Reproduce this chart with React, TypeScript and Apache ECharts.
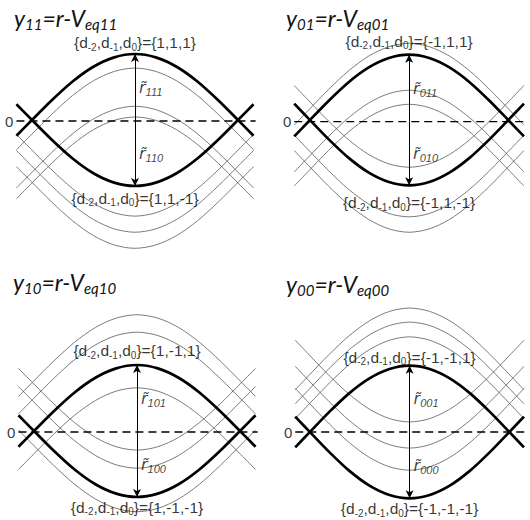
import React, { useEffect, useRef } from 'react';
import * as echarts from 'echarts';

// Time around the sampling instant (UI) and the normalised pulse shape of one trace
const T_UI = [-0.57, -0.5, -0.4, -0.3, -0.2, -0.1, 0, 0.1, 0.2, 0.3, 0.4, 0.5, 0.57];
const PULSE = [-0.22, 0, 0.31, 0.59, 0.81, 0.95, 1, 0.95, 0.81, 0.59, 0.31, 0, -0.22];

// Eye levels at the sampling instant (d0 = 1 traces / d0 = -1 traces); first entry is the bold trace
const Y11_HIGH = [1.0, 0.79, 0.22, 0.06];
const Y11_LOW = [-0.97, -1.42, -1.66, -1.9];
const Y01_HIGH = [1.0, 1.17, 0.47, 0.26];
const Y01_LOW = [-0.95, -0.68, -1.42, -1.65];
const Y10_HIGH = [1.0, 1.75, 1.49, 0.66];
const Y10_LOW = [-0.97, -0.27, -0.54, -1.19];
const Y00_HIGH = [0.99, 1.85, 1.64, 1.42];
const Y00_LOW = [-0.99, 0.15, -0.24, -0.57];

const HIGHS = [Y11_HIGH, Y01_HIGH, Y10_HIGH, Y00_HIGH];
const LOWS = [Y11_LOW, Y01_LOW, Y10_LOW, Y00_LOW];
const SUBSCRIPTS = ['11', '01', '10', '00'];
const HIGH_PATTERNS = ['{1,1,1}', '{-1,1,1}', '{1,-1,1}', '{-1,-1,1}'];
const LOW_PATTERNS = ['{1,1,-1}', '{-1,1,-1}', '{1,-1,-1}', '{-1,-1,-1}'];

// Panel placement (pixels) and value ranges
const PX_PER_UI = 208;
const PX_PER_UNIT = 67;
const X_HALF = 0.6;
const ZERO_START = -0.57;
const ZERO_END = 0.58;
const PANELS = [
  { cx: 135, zy: 121, yMin: -2, yMax: 1.5, titleX: 14, titleY: 6, topGap: 3, botGap: 4 },
  { cx: 413, zy: 121.7, yMin: -2, yMax: 1.5, titleX: 286, titleY: 6, topGap: 5, botGap: 9 },
  { cx: 137, zy: 432, yMin: -1.3, yMax: 2.1, titleX: 13, titleY: 270, topGap: 6, botGap: 2 },
  { cx: 414, zy: 432, yMin: -1.3, yMax: 2.1, titleX: 286, titleY: 272, topGap: 0, botGap: 2 },
];

const LABEL_FONT = '"Liberation Sans", Arial, sans-serif';
const TITLE_FONT = 'Lato, "Open Sans", sans-serif';
const R_FONT = '"DejaVu Sans", sans-serif';

const subRich = {
  s: { fontSize: 10, fontFamily: LABEL_FONT, color: '#000', padding: [9, 0, 0, 0], lineHeight: 17 },
};

const rRich = {
  r: { fontSize: 16, fontStyle: 'italic', fontFamily: R_FONT, color: '#111', lineHeight: 20 },
  t: { fontSize: 11, fontStyle: 'italic', fontFamily: LABEL_FONT, color: '#111', padding: [9, 0, 0, 0], lineHeight: 20 },
};

function patternLabel(pattern: string) {
  return '{d{s|-2},d{s|-1},d{s|0}}=' + pattern;
}

function buildOption() {
  const grid: any[] = [];
  const xAxis: any[] = [];
  const yAxis: any[] = [];
  const series: any[] = [];
  const title: any[] = [];

  PANELS.forEach((p, i) => {
    grid.push({
      left: p.cx - X_HALF * PX_PER_UI,
      width: 2 * X_HALF * PX_PER_UI,
      top: p.zy - p.yMax * PX_PER_UNIT,
      height: (p.yMax - p.yMin) * PX_PER_UNIT,
      containLabel: false,
    });
    xAxis.push({ type: 'value', gridIndex: i, min: -X_HALF, max: X_HALF, show: false });
    yAxis.push({ type: 'value', gridIndex: i, min: p.yMin, max: p.yMax, show: false });

    const sub = SUBSCRIPTS[i];
    title.push({
      left: p.titleX,
      top: p.titleY,
      padding: 0,
      text: '{m|y}{s|' + sub + '}{m|=r-V}{s|eq' + sub + '}',
      textStyle: {
        fontWeight: 'normal',
        rich: {
          m: { fontSize: 23, fontStyle: 'italic', fontWeight: 'normal', fontFamily: TITLE_FONT, color: '#111', lineHeight: 24 },
          s: { fontSize: 15, fontStyle: 'italic', fontWeight: 'normal', fontFamily: TITLE_FONT, color: '#111', padding: [11, 0, 0, 0], lineHeight: 24 },
        },
      },
    });

    const highs = HIGHS[i];
    const lows = LOWS[i];
    const traceStyle = (k: number) => ({
      color: k === 0 ? '#000' : '#5a5a5a',
      width: k === 0 ? 2.7 : 0.8,
    });

    highs.forEach((lv, k) => {
      series.push({
        type: 'line',
        xAxisIndex: i,
        yAxisIndex: i,
        data: T_UI.map((t, j) => [t, lv + PULSE[j] - 1]),
        smooth: 0.3,
        symbol: 'none',
        silent: true,
        lineStyle: traceStyle(k),
        z: k === 0 ? 4 : 2,
      });
    });
    lows.forEach((lv, k) => {
      series.push({
        type: 'line',
        xAxisIndex: i,
        yAxisIndex: i,
        data: T_UI.map((t, j) => [t, lv - PULSE[j] + 1]),
        smooth: 0.3,
        symbol: 'none',
        silent: true,
        lineStyle: traceStyle(k),
        z: k === 0 ? 4 : 2,
      });
    });

    // zero threshold with the eye-opening arrows
    series.push({
      type: 'line',
      xAxisIndex: i,
      yAxisIndex: i,
      data: [[ZERO_START, 0], [ZERO_END, 0]],
      symbol: 'none',
      silent: true,
      lineStyle: { color: '#000', width: 1.3, type: [8, 5] },
      z: 3,
      markLine: {
        silent: true,
        symbol: ['none', 'arrow'],
        symbolSize: [6, 8],
        lineStyle: { color: '#000', width: 1, type: 'solid' },
        label: { show: false },
        data: [
          [{ coord: [0, 0] }, { coord: [0, highs[0]] }],
          [{ coord: [0, 0] }, { coord: [0, lows[0]] }],
        ],
      },
    });

    const textBase = { show: true, color: '#000', fontFamily: LABEL_FONT };
    series.push({
      type: 'scatter',
      xAxisIndex: i,
      yAxisIndex: i,
      symbolSize: 0,
      silent: true,
      z: 6,
      data: [
        {
          value: [0, highs[0]],
          label: { ...textBase, position: 'top', distance: p.topGap, fontSize: 15.5, formatter: patternLabel(HIGH_PATTERNS[i]), rich: subRich },
        },
        {
          value: [0, lows[0]],
          label: { ...textBase, position: 'bottom', distance: p.botGap, fontSize: 15.5, formatter: patternLabel(LOW_PATTERNS[i]), rich: subRich },
        },
        {
          value: [0, highs[0] / 2],
          label: { ...textBase, position: 'right', distance: 4, formatter: '{r|r\u0303}{t|' + sub + '1}', rich: rRich },
        },
        {
          value: [0, lows[0] / 2],
          label: { ...textBase, position: 'right', distance: 4, formatter: '{r|r\u0303}{t|' + sub + '0}', rich: rRich },
        },
        {
          value: [ZERO_START, 0],
          label: { ...textBase, position: 'left', distance: 3, fontSize: 15, formatter: '0' },
        },
      ],
    });
  });

  return { animation: false, backgroundColor: '#fff', title, grid, xAxis, yAxis, series };
}

export default function App() {
  const ref = useRef<HTMLDivElement>(null);
  useEffect(() => {
    if (!ref.current) return;
    const chart = echarts.init(ref.current, null, { renderer: 'svg' });
    chart.setOption(buildOption() as any);
    return () => chart.dispose();
  }, []);
  return (
    <div
      ref={ref}
      style={{ position: 'fixed', left: 0, top: 0, width: 530, height: 520, background: '#fff' }}
    />
  );
}
